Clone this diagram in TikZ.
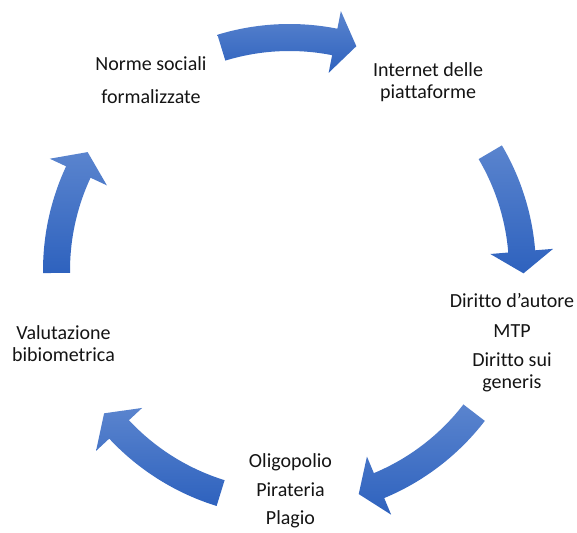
\documentclass[tikz,border=0pt]{standalone}
\usepackage{fontspec}
\setmainfont[RawFeature={-liga;-dlig}]{Carlito}
\usetikzlibrary{calc}

\definecolor{arrowlight}{RGB}{90,132,206}
\definecolor{arrowdark}{RGB}{46,98,190}

\tikzset{
  lbl/.style={anchor=base, inner sep=0pt, text=black!92,
              font=\fontsize{20}{22}\selectfont},
  cyc/.style={top color=arrowlight, bottom color=arrowdark, draw=none},
}

% curved block arrow on the ring around (c), running clockwise
% from angle #1 (tail) to angle #2 (tip)
\newcommand\cyclearrow[2]{%
  \pgfmathsetmacro\headbase{#2+5.4}%
  \shade[cyc] ($(c)+(#1:246.5pt)$)
      arc[start angle=#1, end angle=\headbase, radius=246.5pt]
    -- ($(c)+(\headbase:264.5pt)$)
    -- ($(c)+(\headbase:233pt)+({\headbase-90}:22pt)$)
    -- ($(c)+(\headbase:201.5pt)$)
    -- ($(c)+(\headbase:219.5pt)$)
      arc[start angle=\headbase, end angle=#1, radius=219.5pt]
    -- cycle;}

\begin{document}
\begin{tikzpicture}[x=1pt, y=-1pt]
  \useasboundingbox (0,0) rectangle (577,532);
  \coordinate (c) at (289.5,270.5);

  % ring of arrows
  \cyclearrow{107}{73.4}
  \cyclearrow{30.5}{-0.7}
  \cyclearrow{-37.6}{-72.8}
  \cyclearrow{-107.2}{-142.4}
  \cyclearrow{180.6}{149.6}

  % labels
  \node[lbl] (norme1) at (151,70.5) {Norme sociali};
  \node[lbl] (norme2) at (151,103) {formalizzate};

  \node[lbl] (inet1) at (428,77) {Internet delle};
  \node[lbl] (inet2) at (428,99) {piattaforme};

  \node[lbl] (dir1) at (512,307.5) {Diritto d’autore};
  \node[lbl] (dir2) at (512,337) {MTP};
  \node[lbl] (dir3) at (512,366) {Diritto sui};
  \node[lbl] (dir4) at (512,388) {generis};

  \node[lbl] (oli1) at (290.5,467.5) {Oligopolio};
  \node[lbl] (oli2) at (290.5,496) {Pirateria};
  \node[lbl] (oli3) at (290.5,524.5) {Plagio};

  \node[lbl] (val1) at (63.5,339.5) {Valutazione};
  \node[lbl] (val2) at (63.5,361.5) {bibiometrica};
\end{tikzpicture}
\end{document}
